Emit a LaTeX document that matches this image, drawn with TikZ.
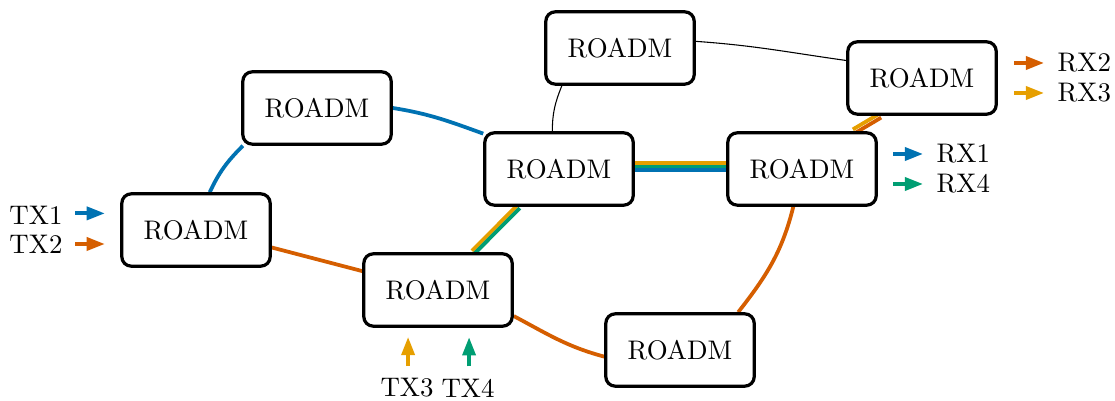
\documentclass[tikz,border=0pt]{standalone}
\usetikzlibrary{arrows.meta,backgrounds}
\definecolor{cblue}{HTML}{0072B2}
\definecolor{cverm}{HTML}{D55E00}
\definecolor{corange}{HTML}{E69F00}
\definecolor{cgreen}{HTML}{009E73}
\tikzset{
  roadm/.style={draw, line width=1.2pt, rounded corners=3.5pt, minimum width=55.2pt, minimum height=26.9pt, fill=white},
  link/.style={line width=1.4pt},
  thinlink/.style={line width=0.4pt},
  lbl/.style={inner sep=0pt},
  sigarrow/.style={line width=1.45pt, -{Triangle[length=6.8pt,width=4.8pt]}},
}
\begin{document}
\begin{tikzpicture}[x=0.372pt, y=0.372pt]
\useasboundingbox (0,0) rectangle (1115,401);
% nodes
\node[roadm] (A) at (196,171) {ROADM};
\node[roadm] (B) at (317,293) {ROADM};
\node[roadm] (C) at (559,232) {ROADM};
\node[roadm] (D) at (438,111) {ROADM};
\node[roadm] (E) at (620,353) {ROADM};
\node[roadm] (F) at (922,323) {ROADM};
\node[roadm] (G) at (802,232) {ROADM};
\node[roadm] (H) at (680,51) {ROADM};
% links
\begin{scope}[on background layer]
\draw[link, cblue] (A.70) to[out=65, in=225] (B.207);
\draw[link, cblue] (B.east) to[out=-9, in=160] (C.155);
\draw[link, cverm] (A.-13) -- (D.166);
\draw[link, corange, transform canvas={shift={(-0.5pt,0.5pt)}}] (D.47) -- (C.223);
\draw[link, cgreen, transform canvas={shift={(0.5pt,-0.5pt)}}] (D.47) -- (C.223);
\draw[link, corange, transform canvas={yshift=2.2pt}] (C.east) -- (G.west);
\draw[link, cgreen, transform canvas={yshift=0.85pt}] (C.east) -- (G.west);
\draw[link, cblue, transform canvas={yshift=-0.5pt}] (C.east) -- (G.west);
\draw[link, corange, transform canvas={shift={(-0.42pt,0.68pt)}}] (G.36) -- (F.222);
\draw[link, cverm, transform canvas={shift={(0.42pt,-0.68pt)}}] (G.36) -- (F.222);
\draw[link, cverm] (D.-19) to[out=-28, in=165] (H.185);
\draw[link, cverm] (G.257) to[out=256, in=52] (H.33);
\draw[thinlink] (C.100) to[out=90, in=248] (E.213);
\draw[thinlink] (E.5) to[out=-4, in=172] (F.167);
\end{scope}
% labels and signal arrows
\node[lbl, anchor=east] (tx1) at (63,186) {TX1};
\node[lbl, anchor=east] (tx2) at (63,157) {TX2};
\draw[sigarrow, cblue] ([xshift=4.6pt,yshift=0.6pt]tx1.east) -- ([xshift=15.6pt,yshift=0.6pt]tx1.east);
\draw[sigarrow, cverm] ([xshift=4.6pt]tx2.east) -- ([xshift=15.6pt]tx2.east);
\node[lbl, anchor=west] (rx2) at (1057,338) {RX2};
\node[lbl, anchor=west] (rx3) at (1057,308) {RX3};
\draw[sigarrow, cverm] ([xshift=-16pt]rx2.west) -- ([xshift=-4.8pt]rx2.west);
\draw[sigarrow, corange] ([xshift=-16pt]rx3.west) -- ([xshift=-4.8pt]rx3.west);
\node[lbl, anchor=west] (rx1) at (936,247) {RX1};
\node[lbl, anchor=west] (rx4) at (936,217) {RX4};
\draw[sigarrow, cblue] ([xshift=-16pt]rx1.west) -- ([xshift=-4.8pt]rx1.west);
\draw[sigarrow, cgreen] ([xshift=-16pt]rx4.west) -- ([xshift=-4.8pt]rx4.west);
\node[lbl] (tx3) at (407,13) {TX3};
\node[lbl] (tx4) at (468,13) {TX4};
\draw[sigarrow, corange] ([xshift=0.4pt,yshift=4.4pt]tx3.north) -- ([xshift=0.4pt,yshift=15.3pt]tx3.north);
\draw[sigarrow, cgreen] ([xshift=0.4pt,yshift=4.4pt]tx4.north) -- ([xshift=0.4pt,yshift=15.3pt]tx4.north);
\end{tikzpicture}
\end{document}
